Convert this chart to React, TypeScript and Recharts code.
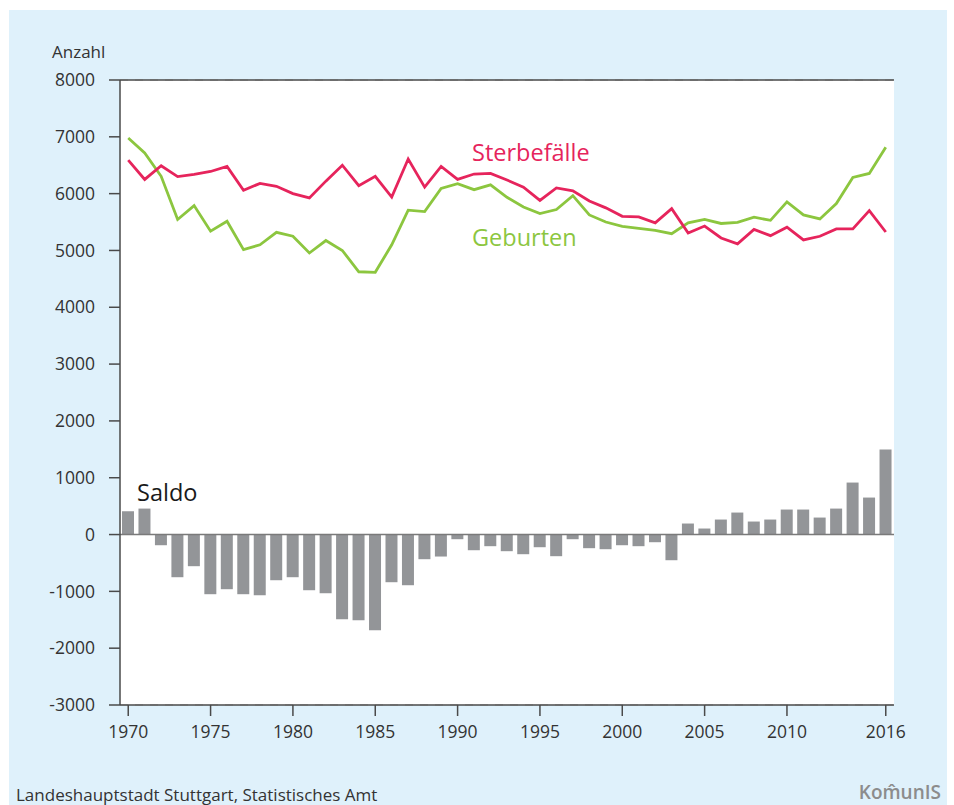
import { ComposedChart, Bar, Line, XAxis, YAxis, CartesianGrid, ReferenceLine } from "recharts"

const FONT = "'Open Sans', 'Noto Sans', sans-serif"
const INK = "#333333"
const AXIS = "#4a4a4a"

const years = [
  1970, 1971, 1972, 1973, 1974, 1975, 1976, 1977, 1978, 1979,
  1980, 1981, 1982, 1983, 1984, 1985, 1986, 1987, 1988, 1989,
  1990, 1991, 1992, 1993, 1994, 1995, 1996, 1997, 1998, 1999,
  2000, 2001, 2002, 2003, 2004, 2005, 2006, 2007, 2008, 2009,
  2010, 2011, 2012, 2013, 2014, 2015, 2016,
]

const sterbefaelle = [
  6590, 6250, 6490, 6300, 6340, 6390, 6480, 6060, 6180, 6130,
  6000, 5925, 6220, 6500, 6140, 6305, 5940, 6610, 6115, 6480,
  6250, 6345, 6355, 6240, 6115, 5880, 6100, 6050, 5870, 5750,
  5600, 5590, 5485, 5735, 5305, 5430, 5220, 5115, 5370, 5260,
  5410, 5185, 5250, 5380, 5380, 5700, 5325,
]

const geburten = [
  6980, 6715, 6305, 5545, 5790, 5340, 5515, 5015, 5100, 5320,
  5250, 4955, 5175, 5000, 4625, 4615, 5100, 5710, 5685, 6090,
  6175, 6070, 6155, 5935, 5765, 5650, 5720, 5965, 5625, 5500,
  5425, 5390, 5355, 5295, 5485, 5545, 5475, 5495, 5585, 5530,
  5855, 5625, 5555, 5825, 6285, 6355, 6815,
]

const saldo = [
  410, 457, -188, -751, -557, -1050, -962, -1050, -1068, -804,
  -751, -980, -1033, -1490, -1508, -1684, -839, -892, -434, -387,
  -82, -276, -205, -293, -346, -223, -381, -82, -240, -258,
  -188, -205, -135, -452, 194, 106, 264, 387, 229, 264,
  440, 440, 299, 457, 915, 651, 1496,
]

const xTicks = [1970, 1975, 1980, 1985, 1990, 1995, 2000, 2005, 2010, 2016]
const yTicks = [-3000, -2000, -1000, 0, 1000, 2000, 3000, 4000, 5000, 6000, 7000, 8000]

const data = years.map((year, i) => ({
  year,
  sterbefaelle: sterbefaelle[i],
  geburten: geburten[i],
  saldo: saldo[i],
}))

const tickStyle = { fontFamily: FONT, fontSize: 17.5, fill: INK }

export default function App() {
  return (
    <div style={{ position: "absolute", left: 0, top: 0, width: 954, height: 805, background: "#fff", overflow: "hidden" }}>
      <div style={{ position: "absolute", left: 9, top: 10, width: 938, height: 795, background: "#dff1fb" }} />
      <div style={{ position: "absolute", left: 120, top: 80, width: 774, height: 625, background: "#fff" }} />

      <div style={{ position: "absolute", left: 0, top: 0 }}>
        <ComposedChart
          width={954}
          height={805}
          data={data}
          margin={{ top: 80, right: 60, bottom: 70, left: 60 }}
          barCategoryGap={0}
        >
          <CartesianGrid vertical={false} stroke="#cccccc" strokeWidth={1.5} strokeDasharray="8 7" />
          <XAxis
            dataKey="year"
            type="category"
            ticks={xTicks}
            interval={0}
            height={30}
            tick={tickStyle}
            tickSize={11}
            tickMargin={10}
            tickLine={{ stroke: AXIS, strokeWidth: 1.5 }}
            axisLine={{ stroke: AXIS, strokeWidth: 1.5 }}
          />
          <YAxis
            yAxisId="left"
            type="number"
            domain={[-3000, 8000]}
            ticks={yTicks}
            interval={0}
            width={60}
            tick={tickStyle}
            tickSize={11}
            tickMargin={14}
            tickLine={{ stroke: AXIS, strokeWidth: 1.5 }}
            axisLine={{ stroke: AXIS, strokeWidth: 1.5 }}
          />
          <YAxis
            yAxisId="frame"
            orientation="right"
            type="number"
            domain={[-3000, 8000]}
            width={0}
            tick={false}
            tickLine={false}
            axisLine={{ stroke: AXIS, strokeWidth: 1.5 }}
          />
          <Bar yAxisId="left" dataKey="saldo" fill="#939598" barSize={12} isAnimationActive={false} />
          <ReferenceLine yAxisId="left" y={0} stroke="#7a7a7a" strokeWidth={1.5} />
          <ReferenceLine yAxisId="left" y={8000} stroke={AXIS} strokeWidth={1.5} />
          <Line
            yAxisId="left"
            type="linear"
            dataKey="geburten"
            stroke="#8cc63f"
            strokeWidth={2.8}
            dot={false}
            isAnimationActive={false}
          />
          <Line
            yAxisId="left"
            type="linear"
            dataKey="sterbefaelle"
            stroke="#e6245c"
            strokeWidth={2.8}
            dot={false}
            isAnimationActive={false}
          />
        </ComposedChart>
      </div>

      <div style={{ position: "absolute", left: 52, top: 40, fontFamily: FONT, fontSize: 17, color: INK, lineHeight: "24px" }}>Anzahl</div>
      <div style={{ position: "absolute", left: 472, top: 136, fontFamily: FONT, fontSize: 23.5, color: "#e6245c", lineHeight: "32px" }}>Sterbefälle</div>
      <div style={{ position: "absolute", left: 472, top: 221, fontFamily: FONT, fontSize: 23.5, color: "#8cc63f", lineHeight: "32px" }}>Geburten</div>
      <div style={{ position: "absolute", left: 137, top: 476, fontFamily: FONT, fontSize: 23.5, color: "#1a1a1a", lineHeight: "32px" }}>Saldo</div>
      <div style={{ position: "absolute", left: 16, top: 781, fontFamily: FONT, fontSize: 17, color: INK, lineHeight: "28px", whiteSpace: "nowrap" }}>
        Landeshauptstadt Stuttgart, Statistisches Amt
      </div>
      <div style={{ position: "absolute", right: 13, top: 777, fontFamily: FONT, fontSize: 19, fontWeight: 600, color: "#8c8c8c", lineHeight: "30px", whiteSpace: "nowrap" }}>
        Kom&#770;unIS
      </div>
    </div>
  )
}
